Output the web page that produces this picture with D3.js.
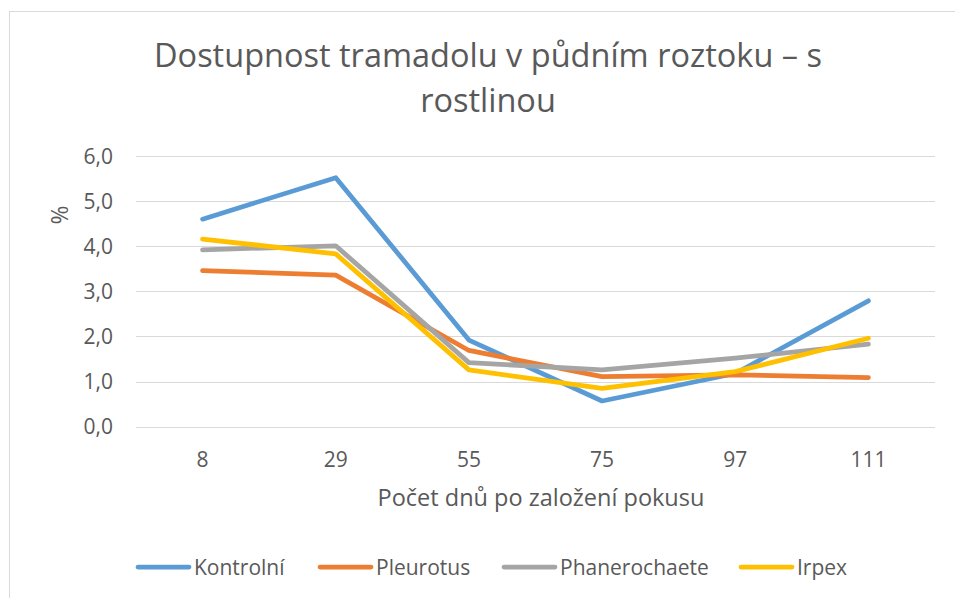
<!DOCTYPE html>
<html>
<head>
<meta charset="utf-8">
<script src="https://cdn.jsdelivr.net/npm/d3@7.9.0/dist/d3.min.js"></script>
<style>
  html, body { margin: 0; padding: 0; background: #fff; }
  svg text { font-family: "Open Sans", sans-serif; fill: #595959; }
</style>
</head>
<body>
<svg id="chart" width="955" height="598"></svg>
<script>
// data
const days = ['8', '29', '55', '75', '97', '111'];
const seriesNames = ['Kontrolní', 'Pleurotus', 'Phanerochaete', 'Irpex'];
const kontrolni = [4.60, 5.52, 1.92, 0.57, 1.18, 2.79];
const pleurotus = [3.46, 3.36, 1.69, 1.11, 1.15, 1.09];
const phanerochaete = [3.92, 4.01, 1.42, 1.26, 1.52, 1.83];
const irpex = [4.16, 3.83, 1.26, 0.85, 1.22, 1.96];
const yTicks = [0, 1, 2, 3, 4, 5, 6];
const colors = ['#5B9BD5', '#ED7D31', '#A5A5A5', '#FFC000'];

const series = [kontrolni, pleurotus, phanerochaete, irpex].map((vals, i) => ({
  name: seriesNames[i],
  values: vals
}));

const svg = d3.select('#chart');

// chart border
svg.append('rect')
  .attr('x', 9.5).attr('y', 11.5)
  .attr('width', 960).attr('height', 600)
  .attr('fill', 'none').attr('stroke', '#d9d9d9');

const x = d3.scaleBand().domain(days).range([136, 935]);
const y = d3.scaleLinear().domain([0, 6]).range([426.7, 156]);

// gridlines
svg.append('g')
  .selectAll('line')
  .data(yTicks)
  .join('line')
  .attr('x1', 136).attr('x2', 935)
  .attr('y1', d => Math.round(y(d)) + 0.5)
  .attr('y2', d => Math.round(y(d)) + 0.5)
  .attr('stroke', '#d9d9d9')
  .attr('stroke-width', 1);

// y tick labels
const fmt = d => d3.format('.1f')(d).replace('.', ',');
svg.append('g')
  .selectAll('text')
  .data(yTicks)
  .join('text')
  .attr('x', 113)
  .attr('y', d => y(d) + 7.5)
  .attr('text-anchor', 'end')
  .attr('font-size', 21)
  .text(fmt);

// x tick labels
svg.append('g')
  .selectAll('text')
  .data(days)
  .join('text')
  .attr('x', d => x(d) + x.bandwidth() / 2)
  .attr('y', 467)
  .attr('text-anchor', 'middle')
  .attr('font-size', 21)
  .text(d => d);

// lines
const line = d3.line()
  .x((d, i) => x(days[i]) + x.bandwidth() / 2)
  .y(d => y(d));

svg.append('g')
  .selectAll('path')
  .data(series)
  .join('path')
  .attr('d', d => line(d.values))
  .attr('fill', 'none')
  .attr('stroke', (d, i) => colors[i])
  .attr('stroke-width', 4.75)
  .attr('stroke-linecap', 'round')
  .attr('stroke-linejoin', 'round');

// title
const title = svg.append('text')
  .attr('text-anchor', 'middle')
  .attr('font-size', 32.5);
title.append('tspan').attr('x', 488).attr('y', 67).text('Dostupnost tramadolu v půdním roztoku – s');
title.append('tspan').attr('x', 488).attr('y', 112).text('rostlinou');

// axis titles
svg.append('text')
  .attr('x', 541).attr('y', 506)
  .attr('text-anchor', 'middle')
  .attr('font-size', 23.5)
  .text('Počet dnů po založení pokusu');

svg.append('text')
  .attr('transform', 'translate(68,215) rotate(-90)')
  .attr('text-anchor', 'middle')
  .attr('font-size', 23)
  .text('%');

// legend
const legendX = [135, 317, 501, 738];
const legend = svg.append('g')
  .selectAll('g')
  .data(series)
  .join('g')
  .attr('transform', (d, i) => `translate(${legendX[i]},567)`);

legend.append('line')
  .attr('x1', 3).attr('x2', 54)
  .attr('y1', 0).attr('y2', 0)
  .attr('stroke', (d, i) => colors[i])
  .attr('stroke-width', 4.75)
  .attr('stroke-linecap', 'round');

legend.append('text')
  .attr('x', 59).attr('y', 8)
  .attr('font-size', 21)
  .text(d => d.name);
</script>
</body>
</html>
